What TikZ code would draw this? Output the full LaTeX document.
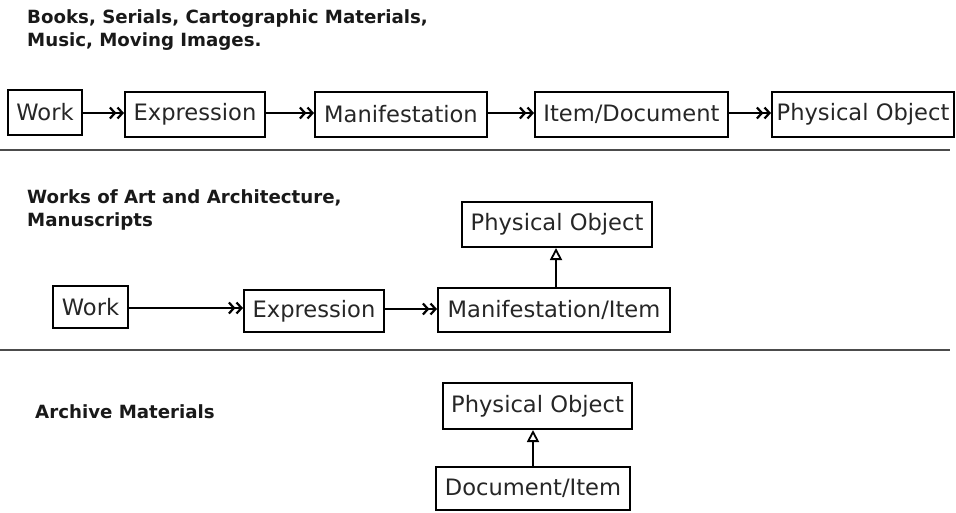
\documentclass[tikz,border=0pt]{standalone}
\usepackage{fontspec}
\setmainfont{DejaVu Sans}
\usetikzlibrary{arrows.meta}
\begin{document}
\begin{tikzpicture}[x=1pt,y=-1pt,
  box/.style={draw, line width=2pt, inner sep=0pt, font=\fontsize{22.6}{26}\selectfont, text=black!85},
  title/.style={anchor=north west, inner sep=0pt, align=left, font=\fontsize{18.2}{22.5}\selectfont\bfseries, text=black!90},
  dbl/.style={line width=2pt, -{Straight Barb[length=5pt,width=11pt,line width=2.2pt]Straight Barb[length=5pt,width=11pt,line width=2.2pt]}},
  gen/.style={line width=2pt, -{Triangle[open,length=12pt,width=12pt,line width=1.8pt]}},
  sep/.style={draw=black!70, line width=1.8pt}]
\useasboundingbox (0,0) rectangle (956,512);
% titles
\node[title] (t1) at (27,9.5) {Books, Serials, Cartographic Materials,\\Music, Moving Images.};
\node[title] (t2) at (27,189.5) {Works of Art and Architecture,\\Manuscripts};
\node[title] (t3) at (35,404.5) {Archive Materials};
% row 1
\node[box, minimum width=74pt, minimum height=45pt] (w1) at (45,112.5) {Work};
\node[box, minimum width=140pt, minimum height=45pt] (e1) at (195,114.5) {Expression};
\node[box, minimum width=172pt, minimum height=45pt] (m1) at (401,114.5) {Manifestation};
\node[box, minimum width=193pt, minimum height=45pt] (i1) at (631.5,114.5) {Item/Document};
\node[box, minimum width=182pt, minimum height=45pt] (p1) at (863,114.5) {Physical Object};
\draw[dbl] (w1.east |- 0,113) -- (e1.west |- 0,113);
\draw[dbl] (e1.east |- 0,113) -- (m1.west |- 0,113);
\draw[dbl] (m1.east |- 0,113) -- (i1.west |- 0,113);
\draw[dbl] (i1.east |- 0,113) -- (p1.west |- 0,113);
\coordinate (s1a) at (0,150);
\coordinate (s1b) at (950,150);
\draw[sep] (s1a) -- (s1b);
% row 2
\node[box, minimum width=190pt, minimum height=45pt] (p2) at (557,224.5) {Physical Object};
\node[box, minimum width=232pt, minimum height=44pt] (m2) at (554,310) {Manifestation/Item};
\node[box, minimum width=75pt, minimum height=42pt] (w2) at (90.5,307) {Work};
\node[box, minimum width=140pt, minimum height=42pt] (e2) at (314,311) {Expression};
\draw[dbl] (w2.east |- 0,308) -- (e2.west |- 0,308);
\draw[dbl] (e2.east |- 0,309) -- (m2.west |- 0,309);
\draw[gen] (m2.north -| 556,0) -- (p2.south -| 556,0);
\coordinate (s2a) at (0,350);
\coordinate (s2b) at (950,350);
\draw[sep] (s2a) -- (s2b);
% row 3
\node[box, minimum width=189pt, minimum height=46pt] (p3) at (537.5,406) {Physical Object};
\node[box, minimum width=194pt, minimum height=43pt] (d3) at (533,488.5) {Document/Item};
\draw[gen] (d3.north -| 533,0) -- (p3.south -| 533,0);
\end{tikzpicture}
\end{document}
